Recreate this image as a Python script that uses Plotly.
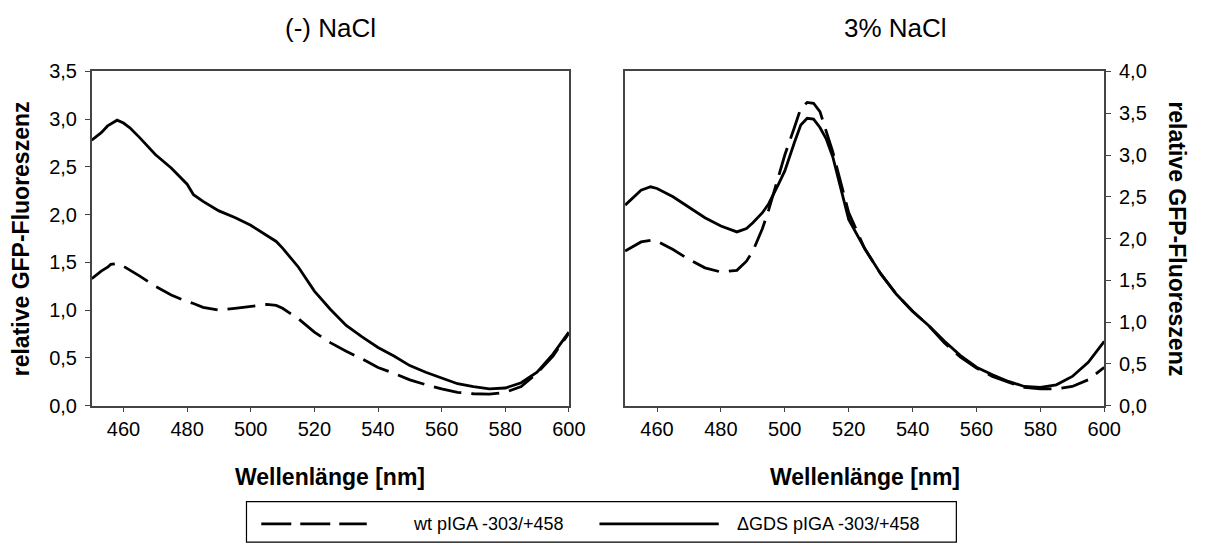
import plotly.graph_objects as go

# Left panel: (-) NaCl
x_l = [450, 453, 455, 456, 458, 460, 462, 465, 470, 475, 480, 482, 485, 490, 495, 500, 505, 508, 510,
       515, 520, 525, 530, 535, 540, 545, 550, 555, 560, 565, 570, 575, 580, 585, 590, 595, 600]
gds_l = [2.78, 2.86, 2.93, 2.95, 2.99, 2.96, 2.91, 2.81, 2.63, 2.49, 2.32, 2.21, 2.14, 2.04, 1.97, 1.89,
         1.78, 1.72, 1.65, 1.45, 1.20, 1.01, 0.84, 0.72, 0.61, 0.52, 0.42, 0.35, 0.29, 0.23, 0.20,
         0.175, 0.185, 0.24, 0.35, 0.54, 0.77]
wt_l = [1.33, 1.41, 1.45, 1.48, 1.49, 1.46, 1.42, 1.36, 1.25, 1.16, 1.09, 1.07, 1.03, 1.00, 1.02, 1.04,
        1.06, 1.05, 1.02, 0.91, 0.77, 0.66, 0.57, 0.49, 0.40, 0.34, 0.27, 0.22, 0.175, 0.14, 0.125,
        0.12, 0.14, 0.20, 0.34, 0.52, 0.76]

# Right panel: 3% NaCl
x_r = [450, 455, 458, 460, 465, 470, 475, 480, 485, 488, 490, 493, 495, 498, 500, 503, 505, 507, 509,
       511, 513, 515, 520, 525, 530, 535, 540, 545, 550, 555, 560, 565, 570, 575, 580, 585, 590, 595, 600]
gds_r = [2.40, 2.58, 2.62, 2.60, 2.50, 2.37, 2.25, 2.15, 2.08, 2.12, 2.19, 2.31, 2.42, 2.65, 2.81, 3.15,
         3.36, 3.44, 3.43, 3.33, 3.19, 2.98, 2.23, 1.88, 1.58, 1.33, 1.13, 0.96, 0.77, 0.60, 0.46, 0.37,
         0.29, 0.23, 0.22, 0.25, 0.35, 0.52, 0.77]
wt_r = [1.85, 1.96, 1.98, 1.97, 1.87, 1.75, 1.65, 1.60, 1.62, 1.73, 1.85, 2.12, 2.35, 2.73, 3.00, 3.33,
        3.56, 3.63, 3.62, 3.52, 3.29, 3.04, 2.31, 1.88, 1.58, 1.33, 1.13, 0.96, 0.75, 0.58, 0.45, 0.35,
        0.28, 0.22, 0.20, 0.20, 0.23, 0.31, 0.46]

x_ticks = [460, 480, 500, 520, 540, 560, 580, 600]
titles = ["(-) NaCl", "3% NaCl"]
y_title = "relative GFP-Fluoreszenz"
x_title = "Wellenlänge [nm]"
legend_names = ["wt pIGA -303/+458", "\u0394GDS pIGA -303/+458"]

W, H = 1209, 554
FONT = "Liberation Sans, Arial, sans-serif"
DASH = "28px,10px"
LW = 2.8

def px(x):
    return x / W

def py(y):
    return 1 - y / H

fig = go.Figure()
fig.add_trace(go.Scatter(x=x_l, y=wt_l, mode="lines", line=dict(color="black", width=LW, dash=DASH),
                         xaxis="x", yaxis="y", showlegend=False))
fig.add_trace(go.Scatter(x=x_l, y=gds_l, mode="lines", line=dict(color="black", width=LW),
                         xaxis="x", yaxis="y", showlegend=False))
fig.add_trace(go.Scatter(x=x_r, y=wt_r, mode="lines", line=dict(color="black", width=LW, dash=DASH),
                         xaxis="x2", yaxis="y2", showlegend=False))
fig.add_trace(go.Scatter(x=x_r, y=gds_r, mode="lines", line=dict(color="black", width=LW),
                         xaxis="x2", yaxis="y2", showlegend=False))

axis_common = dict(showline=True, linecolor="#444", linewidth=1.5, mirror=True, ticks="outside",
                   ticklen=5, tickcolor="#444", showgrid=False, zeroline=False,
                   tickfont=dict(family=FONT, size=20, color="black"))

ydom = [py(411), py(63)]
fig.update_layout(
    width=W, height=H, margin=dict(l=0, r=0, t=0, b=0),
    paper_bgcolor="white", plot_bgcolor="white", separators=",.",
    xaxis=dict(domain=[px(93), px(577)], range=[450, 600], tickvals=x_ticks, anchor="y", **axis_common),
    yaxis=dict(domain=ydom, range=[0, 3.5], dtick=0.5, tickformat=".1f", anchor="x",
               ticklabelstandoff=4, **axis_common),
    xaxis2=dict(domain=[px(634), px(1120)], range=[450, 600], tickvals=x_ticks, anchor="y2", **axis_common),
    yaxis2=dict(domain=ydom, range=[0, 4.0], dtick=0.5, tickformat=".1f", anchor="x2", side="right",
                ticklabelstandoff=4, **axis_common),
)

ann = []
ann.append(dict(text=titles[0], x=px(335), y=py(18), font=dict(family=FONT, size=26, color="black")))
ann.append(dict(text=titles[1], x=px(908), y=py(18), font=dict(family=FONT, size=26, color="black")))
ann.append(dict(text="<b>%s</b>" % x_title, x=px(335), y=py(485), font=dict(family=FONT, size=23, color="black")))
ann.append(dict(text="<b>%s</b>" % x_title, x=px(877), y=py(485), font=dict(family=FONT, size=23, color="black")))
ann.append(dict(text="<b>%s</b>" % y_title, x=px(21), y=py(237), textangle=-90,
                font=dict(family=FONT, size=23, color="black")))
ann.append(dict(text="<b>%s</b>" % y_title, x=px(1194), y=py(237), textangle=90,
                font=dict(family=FONT, size=23, color="black")))
ann.append(dict(text=legend_names[0], x=px(417), y=py(534), xanchor="left",
                font=dict(family=FONT, size=18, color="black")))
ann.append(dict(text=legend_names[1], x=px(745), y=py(534), xanchor="left",
                font=dict(family=FONT, size=18, color="black")))
for a in ann:
    a.setdefault("xanchor", "center")
    a.update(xref="paper", yref="paper", yanchor="middle", showarrow=False)
fig.update_layout(annotations=ann)

shapes = [
    dict(type="rect", xref="paper", yref="paper", x0=px(250), x1=px(970), y0=py(553), y1=py(511),
         line=dict(color="black", width=1.2), fillcolor="rgba(0,0,0,0)"),
    dict(type="line", xref="paper", yref="paper", x0=px(265), x1=px(372), y0=py(534), y1=py(534),
         line=dict(color="black", width=LW, dash="30px,9px")),
    dict(type="line", xref="paper", yref="paper", x0=px(608), x1=px(729), y0=py(534), y1=py(534),
         line=dict(color="black", width=LW)),
]
fig.update_layout(shapes=shapes)

fig.write_html("out.html")
